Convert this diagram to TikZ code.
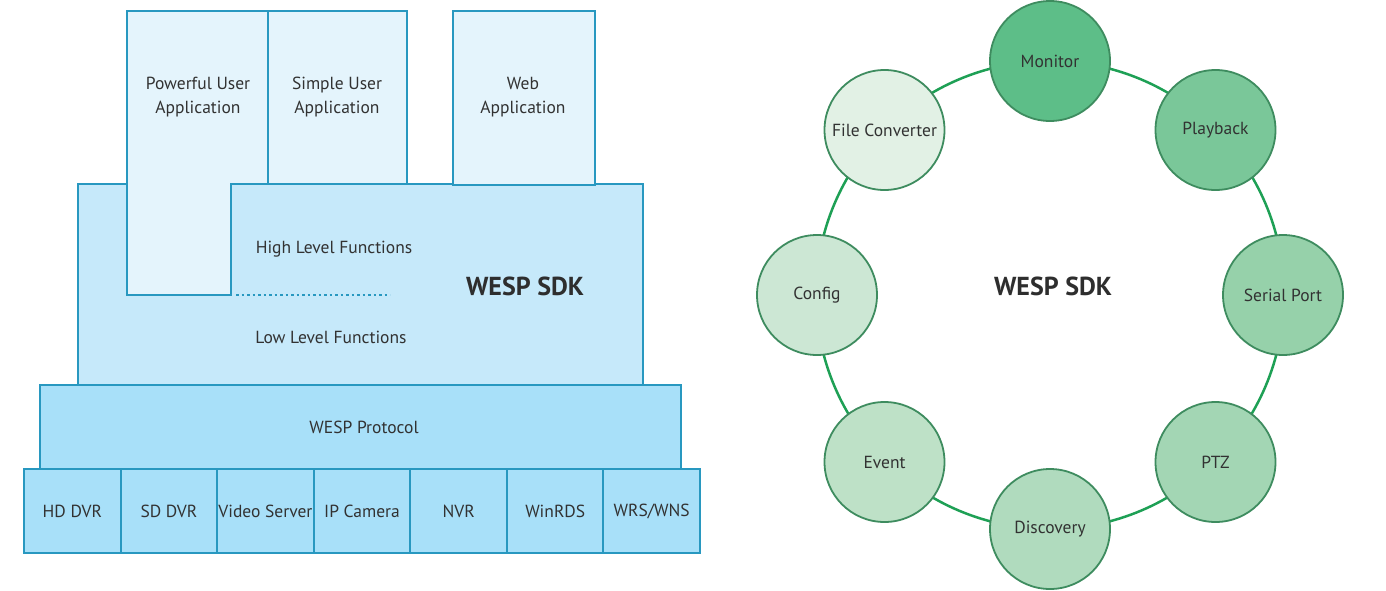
\documentclass[tikz,border=0pt]{standalone}
\usepackage{fontspec}
\setmainfont{PT Sans}
\usepackage{xcolor}
\usepackage{tikz}
\usetikzlibrary{positioning}
\definecolor{wbline}{RGB}{40,152,192}
\definecolor{wbapp}{RGB}{228,244,252}
\definecolor{wbsdk}{RGB}{198,233,250}
\definecolor{wbproto}{RGB}{168,224,249}
\definecolor{wbtext}{RGB}{50,50,50}
\definecolor{wbring}{RGB}{30,160,85}
\definecolor{wbedge}{RGB}{62,140,95}
\definecolor{gmonitor}{RGB}{93,190,136}
\definecolor{gplay}{RGB}{122,199,153}
\definecolor{gserial}{RGB}{150,209,170}
\definecolor{gptz}{RGB}{163,214,180}
\definecolor{gdisc}{RGB}{176,219,190}
\definecolor{gevent}{RGB}{190,225,199}
\definecolor{gconfig}{RGB}{204,231,212}
\definecolor{gfile}{RGB}{226,241,229}

\begin{document}
\begin{tikzpicture}[
  x=1pt, y=-1pt,
  font=\fontsize{17.5}{24}\selectfont, text=wbtext,
  layer/.style={draw=wbline, line width=2pt},
  cell/.style={draw=wbline, fill=wbproto, line width=2pt, rectangle, minimum width=96.6pt, minimum height=84pt, inner sep=0pt},
  lbl/.style={align=center, inner sep=0pt},
  bigtitle/.style={font=\fontsize{26}{30}\selectfont\bfseries, text=black!82},
  fn/.style={draw=wbedge, line width=1.8pt, circle, minimum size=120pt, inner sep=0pt},
]
\useasboundingbox (0,0) rectangle (1386,590);

% ============ SDK block (left) ============
\draw[layer, fill=wbsdk] (78,184) rectangle (643,385);
\draw[layer, fill=wbproto] (40,385) rectangle (681,469);

% ============ Application boxes ============
\draw[layer, fill=wbapp] (127,11) -- (268,11) -- (268,184) -- (231,184) -- (231,295) -- (127,295) -- cycle;
\draw[layer, fill=wbapp] (268,11) rectangle (407,184);
\draw[layer, fill=wbapp] (453,11) rectangle (595,185);

\node[lbl] (powerful) at (198,97) {Powerful User\\Application};
\node[lbl] (simple) at (337,97) {Simple User\\Application};
\node[lbl] (web) at (523,97) {Web\\Application};

% ============ Function levels ============
\node[lbl] (highfn) at (334,249) {High Level Functions};
\node[lbl] (lowfn) at (331,337) {Low Level Functions};
\node[bigtitle] (sdktitle) at (525,286) {WESP SDK};
\coordinate (splitL) at (236,295);
\coordinate (splitR) at (390,295);
\draw[wbline, line width=2.5pt, dash pattern=on 2.5pt off 3pt] (splitL) -- (splitR);

\node[lbl] (proto) at (364,427) {WESP Protocol};

% ============ Device row ============
\node[cell] (hddvr) at (72.3,511) {HD DVR};
\node[cell] (sddvr) at (168.9,511) {SD DVR};
\node[cell] (vserver) at (265.4,511) {Video Server};
\node[cell] (ipcam) at (362,511) {IP Camera};
\node[cell] (nvr) at (458.6,511) {NVR};
\node[cell] (winrds) at (555.2,511) {WinRDS};
\node[cell] (wrs) at (651.7,511) {WRS/WNS};

% ============ Function ring (right) ============
\node[draw=wbring, line width=2.5pt, circle, minimum size=468pt, inner sep=0pt] (ring) at (1050,295) {};
\node[bigtitle] (ringtitle) at (1053,286) {WESP SDK};

\node[fn, fill=gmonitor] (monitor) at (1050,61) {Monitor};
\node[fn, fill=gplay] (playback) at (1215.5,130) {Playback};
\node[fn, fill=gserial] (serial) at (1283,295) {Serial Port};
\node[fn, fill=gptz] (ptz) at (1215.5,462) {PTZ};
\node[fn, fill=gdisc] (discovery) at (1050,529) {Discovery};
\node[fn, fill=gevent] (event) at (884.5,462) {Event};
\node[fn, fill=gconfig] (config) at (817,295) {Config};
\node[fn, fill=gfile] (fileconv) at (884.5,130) {File Converter};

\end{tikzpicture}
\end{document}
